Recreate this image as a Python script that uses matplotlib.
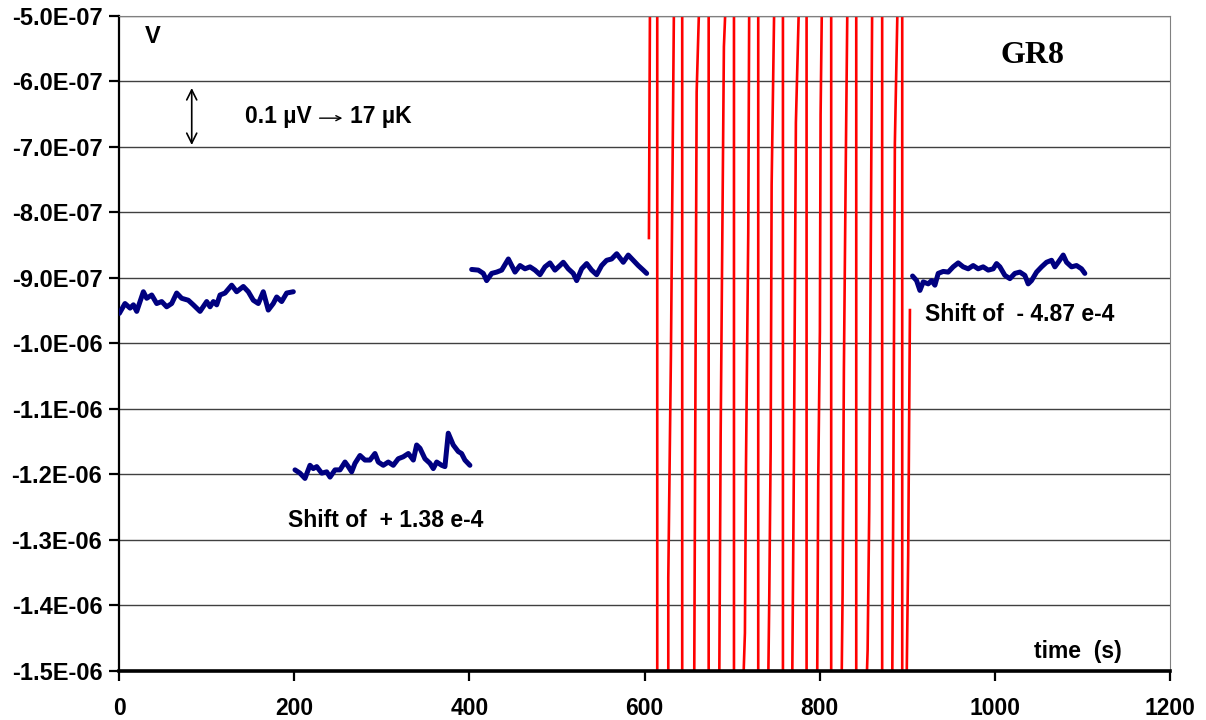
import numpy as np
import matplotlib
matplotlib.use('Agg')
import matplotlib.pyplot as plt
from matplotlib.ticker import FuncFormatter, MultipleLocator

# voltage values below are in units of 1e-7 V, time in s
seg1_t = [0.4, 6.8, 12.6, 16.4, 20.2, 27.8, 31.6, 37.3, 43.0, 48.7, 54.4, 60.1,
          65.8, 71.5, 79.1, 84.8, 92.5, 100.1, 103.9, 107.7, 111.5, 115.3, 121.0,
          128.6, 134.3, 141.9, 147.6, 153.3, 159.0, 164.7, 170.4, 176.1, 180.0,
          185.7, 191.4, 199.0]
seg1_v = [-9.54, -9.39, -9.46, -9.41, -9.51, -9.21, -9.31, -9.26, -9.39, -9.36,
          -9.44, -9.39, -9.23, -9.31, -9.34, -9.41, -9.51, -9.36, -9.44, -9.36,
          -9.41, -9.26, -9.23, -9.11, -9.21, -9.13, -9.21, -9.34, -9.39, -9.21,
          -9.49, -9.39, -9.29, -9.36, -9.23, -9.21]

seg2_t = [200.9, 206.6, 212.3, 218.0, 221.8, 225.7, 231.4, 237.1, 240.9, 246.6,
          252.3, 258.0, 261.8, 265.6, 269.4, 275.1, 280.8, 286.5, 292.2, 296.0,
          301.7, 307.4, 313.1, 318.8, 324.5, 330.3, 336.0, 339.8, 343.6, 349.3,
          355.0, 358.8, 362.7, 368.4, 372.1, 375.9, 381.6, 387.3, 391.1, 394.9,
          400.6]
seg2_v = [-11.93, -11.98, -12.06, -11.86, -11.91, -11.88, -11.98, -11.96, -12.04,
          -11.93, -11.93, -11.81, -11.88, -11.96, -11.83, -11.71, -11.78, -11.78,
          -11.68, -11.81, -11.86, -11.81, -11.86, -11.76, -11.73, -11.68, -11.78,
          -11.55, -11.60, -11.76, -11.83, -11.91, -11.81, -11.86, -11.88, -11.37,
          -11.55, -11.65, -11.68, -11.78, -11.86]

seg3_t = [402.6, 410.2, 415.9, 419.7, 425.5, 431.2, 436.9, 444.5, 448.3, 452.1,
          457.8, 463.5, 469.2, 474.9, 480.6, 486.3, 492.0, 497.7, 503.4, 507.2,
          512.9, 518.6, 522.5, 528.2, 533.9, 539.6, 545.3, 551.0, 556.7, 562.4,
          568.2, 575.7, 581.4, 587.1, 592.8, 598.5, 602.4]
seg3_v = [-8.87, -8.88, -8.93, -9.04, -8.93, -8.91, -8.88, -8.71, -8.81, -8.91,
          -8.81, -8.86, -8.83, -8.88, -8.95, -8.83, -8.77, -8.88, -8.81, -8.76,
          -8.86, -8.93, -9.04, -8.86, -8.78, -8.88, -8.95, -8.81, -8.73, -8.71,
          -8.63, -8.76, -8.65, -8.73, -8.81, -8.88, -8.93]

seg4_t = [906.0, 910.6, 914.4, 918.2, 923.9, 927.7, 931.5, 935.3, 941.0, 946.7,
          952.4, 958.1, 963.8, 969.5, 975.2, 980.9, 986.6, 992.4, 998.1, 1001.9,
          1005.7, 1011.4, 1017.1, 1022.8, 1028.5, 1034.2, 1038.0, 1041.8, 1047.6,
          1053.3, 1059.0, 1064.7, 1068.5, 1072.3, 1078.0, 1081.8, 1087.5, 1093.2,
          1098.9, 1102.7]
seg4_v = [-8.97, -9.04, -9.19, -9.06, -9.09, -9.04, -9.11, -8.93, -8.90, -8.91,
          -8.83, -8.77, -8.83, -8.86, -8.81, -8.86, -8.83, -8.88, -8.86, -8.78,
          -8.83, -8.96, -9.01, -8.93, -8.91, -8.96, -9.09, -9.04, -8.91, -8.83,
          -8.76, -8.73, -8.83, -8.76, -8.65, -8.76, -8.83, -8.81, -8.86, -8.93]

# red trace swings far past both limits
red_t = [605.0, 606.2, 614.5, 614.5, 627.1, 627.1, 630.1, 633.6, 643.0, 643.0,
         656.7, 659.5, 662.4, 673.2, 673.2, 685.3, 686.9, 690.6, 692.6, 702.1,
         702.1, 712.7, 714.6, 715.8, 718.4, 719.5, 729.8, 729.8, 741.2, 742.4,
         744.0, 745.1, 748.1, 758.0, 758.0, 768.6, 770.5, 772.8, 776.3, 785.0,
         785.0, 797.1, 798.3, 800.2, 801.0, 802.5, 813.1, 813.1, 825.0, 826.1,
         827.6, 829.9, 831.6, 841.7, 841.7, 853.5, 854.7, 856.5, 857.3, 859.9,
         871.3, 871.3, 882.8, 883.9, 885.8, 888.9, 894.2, 894.2, 899.2, 901.0,
         903.0]
red_v = [-8.39, -4.8, -4.8, -15.2, -15.2, -13.58, -10.19, -4.8, -4.8, -15.2,
         -15.2, -6.16, -4.8, -4.8, -15.2, -15.2, -11.40, -5.47, -4.8, -4.8,
         -15.2, -15.2, -14.42, -11.89, -8.31, -4.8, -4.8, -15.2, -15.2, -13.87,
         -11.60, -7.58, -4.8, -4.8, -15.2, -15.2, -11.85, -6.63, -4.8, -4.8,
         -15.2, -15.2, -12.08, -9.82, -6.51, -4.8, -4.8, -15.2, -15.2, -13.84,
         -10.40, -7.05, -4.8, -4.8, -15.2, -15.2, -14.68, -12.57, -10.89, -4.8,
         -4.8, -15.2, -15.2, -12.54, -6.94, -4.8, -4.8, -15.2, -15.2, -13.23,
         -9.49]

scale = 1e-7

plt.rcParams['font.family'] = ['Liberation Sans', 'DejaVu Sans']
plt.rcParams['font.weight'] = 'bold'

fig = plt.figure(figsize=(12.06, 7.2), dpi=100)
ax = fig.add_axes([0.0987, 0.0681, 0.8715, 0.9097])

ax.plot(red_t, np.array(red_v) * scale, color='#ff0000', lw=1.9, zorder=2)
for t, v in [(seg1_t, seg1_v), (seg2_t, seg2_v), (seg3_t, seg3_v), (seg4_t, seg4_v)]:
    ax.plot(t, np.array(v) * scale, color='#000080', lw=3.6,
            solid_capstyle='round', solid_joinstyle='round', zorder=3)

ax.set_xlim(0, 1200)
ax.set_ylim(-1.5e-6, -5e-7)
ax.xaxis.set_major_locator(MultipleLocator(200))
ax.yaxis.set_major_locator(MultipleLocator(1e-7))
ax.yaxis.set_major_formatter(FuncFormatter(lambda v, p: '{:.1E}'.format(v)))
ax.grid(axis='y', color='#404040', lw=1.0)
ax.set_axisbelow(True)

ax.spines['left'].set_linewidth(1.6)
ax.spines['bottom'].set_linewidth(2.6)
ax.spines['top'].set_color('#808080')
ax.spines['right'].set_color('#808080')
ax.spines['right'].set_linewidth(0.8)
ax.tick_params(axis='both', direction='out', length=7, width=1.6)
ax.tick_params(axis='x', pad=12, labelsize=16.5)
ax.tick_params(axis='y', pad=5, labelsize=17)
for lab in ax.get_xticklabels() + ax.get_yticklabels():
    lab.set_fontweight('bold')

ax.text(30, -5.32e-7, 'V', fontsize=17, fontweight='bold', va='center')
ax.annotate('', xy=(83, -6.10e-7), xytext=(83, -6.97e-7),
            arrowprops=dict(arrowstyle='<->', color='black', lw=1.2,
                            mutation_scale=18, shrinkA=0, shrinkB=0))
# "0.1 µV → 17 µK" with a thin arrow as in the original
ax.text(144, -6.53e-7, '0.1 µV', fontsize=16.5, fontweight='bold', va='center')
ax.annotate('', xy=(255, -6.56e-7), xytext=(229, -6.56e-7),
            arrowprops=dict(arrowstyle='->', color='black', lw=1.0,
                            mutation_scale=9, shrinkA=0, shrinkB=0))
ax.text(264, -6.53e-7, '17 µK', fontsize=16.5, fontweight='bold', va='center')
ax.text(1006, -5.61e-7, 'GR8', fontsize=23, fontweight='bold', va='center',
        family='Liberation Serif')
ax.text(193, -12.71e-7, 'Shift of  + 1.38 e-4', fontsize=16.5, fontweight='bold', va='center')
ax.text(920, -9.56e-7, 'Shift of  - 4.87 e-4', fontsize=16.5, fontweight='bold', va='center')
ax.text(1045, -14.71e-7, 'time  (s)', fontsize=16.5, fontweight='bold', va='center')

fig.savefig('out.png', dpi=100)
